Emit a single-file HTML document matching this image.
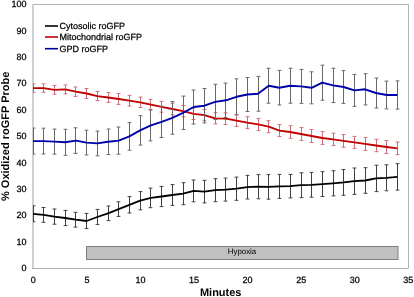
<!DOCTYPE html>
<html><head><meta charset="utf-8"><style>
html,body{margin:0;padding:0;background:#fff;}
body{width:414px;height:297px;overflow:hidden;}
svg{display:block;font-family:"Liberation Sans",sans-serif;will-change:transform;text-rendering:geometricPrecision;}
.t{stroke:#000;stroke-width:0.25px;}
</style></head><body>
<svg width="414" height="297" viewBox="0 0 414 297">
<path d="M33 4.5H408.5V268" stroke="#b4b4b4" stroke-width="1" fill="none"/>
<rect x="86.5" y="246.5" width="311.5" height="13" fill="#c0c0c0" stroke="#808080" stroke-width="1"/>
<text x="242" y="253.9" font-size="7.9" text-anchor="middle" fill="#000">Hypoxia</text>
<text x="26.5" y="271.2" font-size="9" text-anchor="end" fill="#000" class="t">0</text>
<text x="26.5" y="244.8" font-size="9" text-anchor="end" fill="#000" class="t">10</text>
<text x="26.5" y="218.4" font-size="9" text-anchor="end" fill="#000" class="t">20</text>
<text x="26.5" y="192.0" font-size="9" text-anchor="end" fill="#000" class="t">30</text>
<text x="26.5" y="165.6" font-size="9" text-anchor="end" fill="#000" class="t">40</text>
<text x="26.5" y="139.2" font-size="9" text-anchor="end" fill="#000" class="t">50</text>
<text x="26.5" y="112.8" font-size="9" text-anchor="end" fill="#000" class="t">60</text>
<text x="26.5" y="86.4" font-size="9" text-anchor="end" fill="#000" class="t">70</text>
<text x="26.5" y="60.0" font-size="9" text-anchor="end" fill="#000" class="t">80</text>
<text x="26.5" y="33.6" font-size="9" text-anchor="end" fill="#000" class="t">90</text>
<text x="26.5" y="7.2" font-size="9" text-anchor="end" fill="#000" class="t">100</text>
<text x="33.3" y="283.0" font-size="9" text-anchor="middle" fill="#000" class="t">0</text>
<text x="86.9" y="283.0" font-size="9" text-anchor="middle" fill="#000" class="t">5</text>
<text x="140.4" y="283.0" font-size="9" text-anchor="middle" fill="#000" class="t">10</text>
<text x="194.0" y="283.0" font-size="9" text-anchor="middle" fill="#000" class="t">15</text>
<text x="247.6" y="283.0" font-size="9" text-anchor="middle" fill="#000" class="t">20</text>
<text x="301.2" y="283.0" font-size="9" text-anchor="middle" fill="#000" class="t">25</text>
<text x="354.7" y="283.0" font-size="9" text-anchor="middle" fill="#000" class="t">30</text>
<text x="408.3" y="283.0" font-size="9" text-anchor="middle" fill="#000" class="t">35</text>
<text x="220.7" y="295.5" font-size="11" font-weight="bold" text-anchor="middle" fill="#000">Minutes</text>
<text transform="translate(8.6,136.3) rotate(-90)" x="0" y="0" font-size="11" font-weight="bold" text-anchor="middle" fill="#000">% Oxidized roGFP Probe</text>
<path d="M33 4V269" stroke="#cfcfcf" stroke-width="2" fill="none"/><path d="M32 268.5H408.5" stroke="#b0b0b0" stroke-width="1" fill="none"/>
<defs><clipPath id="pc"><rect x="33" y="4" width="375" height="264"/></clipPath></defs><g clip-path="url(#pc)">
<path d="M33.5 83.9V92.3M31.6 83.9H35.4M31.6 92.3H35.4M43.5 83.9V92.3M41.6 83.9H45.4M41.6 92.3H45.4M54.5 85.4V94.2M52.6 85.4H56.4M52.6 94.2H56.4M65.5 85.0V93.8M63.6 85.0H67.4M63.6 93.8H67.4M75.5 87.0V96.4M73.6 87.0H77.4M73.6 96.4H77.4M86.5 88.6V98.4M84.6 88.6H88.4M84.6 98.4H88.4M97.5 91.6V100.6M95.6 91.6H99.4M95.6 100.6H99.4M108.5 92.6V102.4M106.6 92.6H110.4M106.6 102.4H110.4M118.5 93.6V104.4M116.6 93.6H120.4M116.6 104.4H120.4M129.5 95.4V106.0M127.6 95.4H131.4M127.6 106.0H131.4M140.5 97.1V107.5M138.6 97.1H142.4M138.6 107.5H142.4M150.5 99.4V109.8M148.6 99.4H152.4M148.6 109.8H152.4M161.5 101.4V112.2M159.6 101.4H163.4M159.6 112.2H163.4M172.5 103.2V114.8M170.6 103.2H174.4M170.6 114.8H174.4M183.5 105.5V116.7M181.6 105.5H185.4M181.6 116.7H185.4M193.5 108.0V119.6M191.6 108.0H195.4M191.6 119.6H195.4M204.5 109.5V120.7M202.6 109.5H206.4M202.6 120.7H206.4M215.5 112.7V123.9M213.6 112.7H217.4M213.6 123.9H217.4M225.5 112.9V124.5M223.6 112.9H227.4M223.6 124.5H227.4M236.5 114.7V126.5M234.6 114.7H238.4M234.6 126.5H238.4M247.5 116.7V128.7M245.6 116.7H249.4M245.6 128.7H249.4M258.5 118.4V130.4M256.6 118.4H260.4M256.6 130.4H260.4M268.5 120.7V132.7M266.6 120.7H270.4M266.6 132.7H270.4M279.5 124.6V136.6M277.6 124.6H281.4M277.6 136.6H281.4M290.5 125.7V138.3M288.6 125.7H292.4M288.6 138.3H292.4M301.5 127.6V140.4M299.6 127.6H303.4M299.6 140.4H303.4M311.5 129.5V142.5M309.6 129.5H313.4M309.6 142.5H313.4M322.5 131.6V144.4M320.6 131.6H324.4M320.6 144.4H324.4M333.5 133.2V145.6M331.6 133.2H335.4M331.6 145.6H335.4M343.5 134.6V147.2M341.6 134.6H345.4M341.6 147.2H345.4M354.5 136.4V148.4M352.6 136.4H356.4M352.6 148.4H356.4M365.5 137.4V150.4M363.6 137.4H367.4M363.6 150.4H367.4M376.5 139.3V151.7M374.6 139.3H378.4M374.6 151.7H378.4M386.5 140.5V153.5M384.6 140.5H388.4M384.6 153.5H388.4M397.5 142.0V154.6M395.6 142.0H399.4M395.6 154.6H399.4" stroke="#cf6c78" stroke-width="1" fill="none"/>
<polyline points="33.0,88.1 43.7,88.1 54.4,89.8 65.1,89.4 75.9,91.7 86.6,93.5 97.3,96.1 108.0,97.5 118.7,99.0 129.4,100.7 140.1,102.3 150.9,104.6 161.6,106.8 172.3,109.0 183.0,111.1 193.7,113.8 204.4,115.1 215.1,118.3 225.9,118.7 236.6,120.6 247.3,122.7 258.0,124.4 268.7,126.7 279.4,130.6 290.1,132.0 300.9,134.0 311.6,136.0 322.3,138.0 333.0,139.4 343.7,140.9 354.4,142.4 365.1,143.9 375.9,145.5 386.6,147.0 397.3,148.3" stroke="#c20000" stroke-width="1.85" fill="none" stroke-linejoin="round" stroke-linecap="butt"/>
<path d="M33.5 128.1V154.1M31.6 128.1H35.4M31.6 154.1H35.4M43.5 128.2V154.0M41.6 128.2H45.4M41.6 154.0H45.4M54.5 129.1V154.1M52.6 129.1H56.4M52.6 154.1H56.4M65.5 129.3V155.3M63.6 129.3H67.4M63.6 155.3H67.4M75.5 127.8V153.4M73.6 127.8H77.4M73.6 153.4H77.4M86.5 130.2V155.0M84.6 130.2H88.4M84.6 155.0H88.4M97.5 131.0V155.8M95.6 131.0H99.4M95.6 155.8H99.4M108.5 129.0V154.6M106.6 129.0H110.4M106.6 154.6H110.4M118.5 127.0V154.2M116.6 127.0H120.4M116.6 154.2H120.4M129.5 122.6V150.2M127.6 122.6H131.4M127.6 150.2H131.4M140.5 115.7V145.1M138.6 115.7H142.4M138.6 145.1H142.4M150.5 109.9V140.9M148.6 109.9H152.4M148.6 140.9H152.4M161.5 106.3V137.5M159.6 106.3H163.4M159.6 137.5H163.4M172.5 101.6V134.2M170.6 101.6H174.4M170.6 134.2H174.4M183.5 96.1V129.5M181.6 96.1H185.4M181.6 129.5H185.4M193.5 90.0V124.0M191.6 90.0H195.4M191.6 124.0H195.4M204.5 88.5V122.9M202.6 88.5H206.4M202.6 122.9H206.4M215.5 84.3V119.5M213.6 84.3H217.4M213.6 119.5H217.4M225.5 83.1V117.5M223.6 83.1H227.4M223.6 117.5H227.4M236.5 78.8V114.8M234.6 78.8H238.4M234.6 114.8H238.4M247.5 77.5V111.5M245.6 77.5H249.4M245.6 111.5H249.4M258.5 76.4V111.2M256.6 76.4H260.4M256.6 111.2H260.4M268.5 68.2V103.2M266.6 68.2H270.4M266.6 103.2H270.4M279.5 70.4V105.0M277.6 70.4H281.4M277.6 105.0H281.4M290.5 68.2V103.2M288.6 68.2H292.4M288.6 103.2H292.4M301.5 69.4V103.4M299.6 69.4H303.4M299.6 103.4H303.4M311.5 71.8V103.8M309.6 71.8H313.4M309.6 103.8H313.4M322.5 65.2V100.2M320.6 65.2H324.4M320.6 100.2H324.4M333.5 68.2V102.6M331.6 68.2H335.4M331.6 102.6H335.4M343.5 70.6V103.4M341.6 70.6H345.4M341.6 103.4H345.4M354.5 74.4V106.4M352.6 74.4H356.4M352.6 106.4H356.4M365.5 73.7V104.9M363.6 73.7H367.4M363.6 104.9H367.4M376.5 78.0V108.0M374.6 78.0H378.4M374.6 108.0H378.4M386.5 81.1V108.9M384.6 81.1H388.4M384.6 108.9H388.4M397.5 80.9V109.1M395.6 80.9H399.4M395.6 109.1H399.4" stroke="#686868" stroke-width="1" fill="none"/>
<polyline points="33.0,141.1 43.7,141.1 54.4,141.6 65.1,142.3 75.9,140.6 86.6,142.6 97.3,143.4 108.0,141.8 118.7,140.6 129.4,136.4 140.1,130.4 150.9,125.4 161.6,121.9 172.3,117.9 183.0,112.8 193.7,107.0 204.4,105.7 215.1,101.9 225.9,100.3 236.6,96.8 247.3,94.5 258.0,93.8 268.7,85.7 279.4,87.7 290.1,85.7 300.9,86.4 311.6,87.8 322.3,82.7 333.0,85.4 343.7,87.0 354.4,90.4 365.1,89.3 375.9,93.0 386.6,95.0 397.3,95.0" stroke="#0000a8" stroke-width="1.9" fill="none" stroke-linejoin="round" stroke-linecap="butt"/>
<path d="M33.5 205.8V221.8M31.6 205.8H35.4M31.6 221.8H35.4M43.5 207.5V222.3M41.6 207.5H45.4M41.6 222.3H45.4M54.5 209.0V224.2M52.6 209.0H56.4M52.6 224.2H56.4M65.5 210.4V225.6M63.6 210.4H67.4M63.6 225.6H67.4M75.5 212.3V227.1M73.6 212.3H77.4M73.6 227.1H77.4M86.5 213.4V228.6M84.6 213.4H88.4M84.6 228.6H88.4M97.5 209.4V224.6M95.6 209.4H99.4M95.6 224.6H99.4M108.5 206.0V220.6M106.6 206.0H110.4M106.6 220.6H110.4M118.5 201.8V216.4M116.6 201.8H120.4M116.6 216.4H120.4M129.5 196.6V213.0M127.6 196.6H131.4M127.6 213.0H131.4M140.5 191.6V209.8M138.6 191.6H142.4M138.6 209.8H142.4M150.5 188.1V207.7M148.6 188.1H152.4M148.6 207.7H152.4M161.5 186.4V206.6M159.6 186.4H163.4M159.6 206.6H163.4M172.5 184.6V205.4M170.6 184.6H174.4M170.6 205.4H174.4M183.5 182.7V204.7M181.6 182.7H185.4M181.6 204.7H185.4M193.5 180.0V201.8M191.6 180.0H195.4M191.6 201.8H195.4M204.5 180.3V202.9M202.6 180.3H206.4M202.6 202.9H206.4M215.5 178.7V201.7M213.6 178.7H217.4M213.6 201.7H217.4M225.5 178.1V201.1M223.6 178.1H227.4M223.6 201.1H227.4M236.5 177.1V200.3M234.6 177.1H238.4M234.6 200.3H238.4M247.5 175.4V199.0M245.6 175.4H249.4M245.6 199.0H249.4M258.5 174.6V198.8M256.6 174.6H260.4M256.6 198.8H260.4M268.5 174.6V199.2M266.6 174.6H270.4M266.6 199.2H270.4M279.5 174.4V198.4M277.6 174.4H281.4M277.6 198.4H281.4M290.5 174.5V197.9M288.6 174.5H292.4M288.6 197.9H292.4M301.5 172.8V197.6M299.6 172.8H303.4M299.6 197.6H303.4M311.5 172.4V197.2M309.6 172.4H313.4M309.6 197.2H313.4M322.5 171.7V196.5M320.6 171.7H324.4M320.6 196.5H324.4M333.5 170.7V195.9M331.6 170.7H335.4M331.6 195.9H335.4M343.5 169.5V195.3M341.6 169.5H345.4M341.6 195.3H345.4M354.5 168.0V194.4M352.6 168.0H356.4M352.6 194.4H356.4M365.5 167.7V193.3M363.6 167.7H367.4M363.6 193.3H367.4M376.5 165.2V191.6M374.6 165.2H378.4M374.6 191.6H378.4M386.5 164.8V190.8M384.6 164.8H388.4M384.6 190.8H388.4M397.5 163.7V190.1M395.6 163.7H399.4M395.6 190.1H399.4" stroke="#404040" stroke-width="1" fill="none"/>
<polyline points="33.0,213.8 43.7,214.9 54.4,216.6 65.1,218.0 75.9,219.7 86.6,221.0 97.3,217.0 108.0,213.3 118.7,209.1 129.4,204.8 140.1,200.7 150.9,197.9 161.6,196.5 172.3,195.0 183.0,193.7 193.7,190.9 204.4,191.6 215.1,190.2 225.9,189.6 236.6,188.7 247.3,187.2 258.0,186.7 268.7,186.9 279.4,186.4 290.1,186.2 300.9,185.2 311.6,184.8 322.3,184.1 333.0,183.3 343.7,182.4 354.4,181.2 365.1,180.5 375.9,178.4 386.6,177.8 397.3,176.9" stroke="#000000" stroke-width="1.85" fill="none" stroke-linejoin="round" stroke-linecap="butt"/>
</g>
<line x1="45" y1="26" x2="58" y2="26" stroke="#000" stroke-width="1.6"/>
<text x="59.5" y="29.2" font-size="9" fill="#000" class="t">Cytosolic roGFP</text>
<line x1="45" y1="37" x2="58" y2="37" stroke="#c00000" stroke-width="1.6"/>
<text x="59.5" y="40.2" font-size="9" fill="#000" class="t">Mitochondrial roGFP</text>
<line x1="45" y1="48.7" x2="58" y2="48.7" stroke="#0000a0" stroke-width="1.6"/>
<text x="59.5" y="51.9" font-size="9" fill="#000" class="t">GPD roGFP</text>
</svg>
</body></html>
